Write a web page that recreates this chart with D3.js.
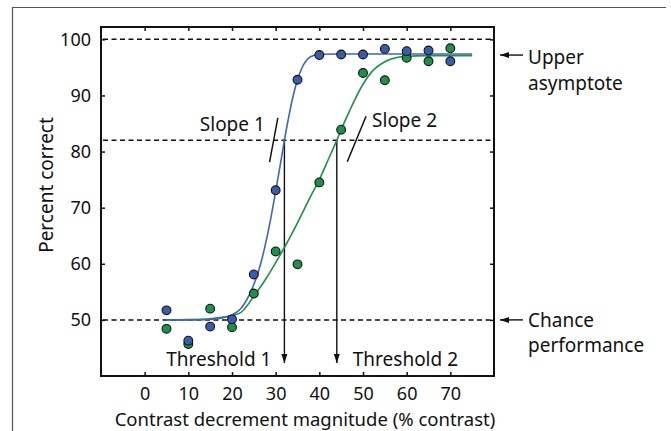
<!DOCTYPE html>
<html>
<head>
<meta charset="utf-8">
<script src="https://cdn.jsdelivr.net/npm/d3@7"></script>
<style>
  body { margin: 0; background: #fff; }
  text { font-family: "Noto Sans", sans-serif; font-size: 19px; fill: #111; }
  .tick text { font-size: 18px; }
</style>
</head>
<body>
<div class="chart"></div>
<script>
// data
const xTicks = [0, 10, 20, 30, 40, 50, 60, 70];
const yTicks = [50, 60, 70, 80, 90, 100];

const contrast = [5, 10, 15, 20, 25, 30, 35, 40, 45, 50, 55, 60, 65, 70];
const blueCorrect = [51.7, 46.3, 48.8, 50.1, 58.1, 73.1, 92.8, 97.2, 97.3, 97.3, 98.3, 97.9, 98.0, 96.1];
const greenCorrect = [48.4, 45.7, 52.0, 48.7, 54.7, 62.2, 59.9, 74.5, 83.9, 94.0, 92.7, 96.7, 96.1, 98.4];

// fitted curves
const blueFitX = [5, 10, 15, 18, 20, 22, 24, 25, 26, 27, 28, 29, 30, 31, 32, 33, 34, 35, 36, 37, 38, 40, 45, 75];
const blueFitY = [50, 50, 50.1, 50.4, 50.9, 52, 54.5, 56.3, 58.5, 61.3, 64.7, 68.6, 72.9, 77.4, 82, 86.2, 89.9, 92.8, 94.9, 96.2, 96.9, 97.35, 97.4, 97.4];
const greenFitX = [5, 10, 15, 18, 20, 22, 25, 28, 30, 32, 35, 38, 40, 42, 44, 45, 47, 50, 52, 55, 58, 60, 65, 75];
const greenFitY = [50, 50.05, 50.2, 50.5, 50.8, 51.3, 54.2, 57.6, 60.2, 62.9, 67.3, 72, 75, 78.5, 82, 83.9, 87.4, 92, 94.2, 96, 96.8, 97, 97.1, 97.1];

const refLevels = [100, 82, 50];
const thresholds = [32, 44];
const thresholdLabels = ['Threshold 1', 'Threshold 2'];
const slopeNames = ['Slope 1', 'Slope 2'];
const slopeSegs = [[[30.5, 86.0], [28.6, 78.1]], [[50.7, 86.3], [46.4, 78.2]]];
const upperLevel = 97.2;
const chanceLevel = 50;

const blue = '#3b5ca9';
const green = '#1f8f4c';
const blueLine = '#4166b4';
const greenLine = '#1c9149';

const width = 671, height = 431;
const margin = { top: 27, right: 177, bottom: 55, left: 101 };
const graphWidth = width - margin.left - margin.right;
const graphHeight = height - margin.top - margin.bottom;

const svg = d3.select('.chart')
  .append('svg')
  .attr('width', width)
  .attr('height', height);

// outer figure border
svg.append('path')
  .attr('d', `M12.5,${height + 5} V7.5 H666`)
  .attr('fill', 'none')
  .attr('stroke', '#555')
  .attr('stroke-width', 1.2);

const defs = svg.append('defs');
defs.append('marker')
  .attr('id', 'head')
  .attr('viewBox', '0 -4 9 8')
  .attr('refX', 9)
  .attr('refY', 0)
  .attr('markerWidth', 9)
  .attr('markerHeight', 8)
  .attr('markerUnits', 'userSpaceOnUse')
  .attr('orient', 'auto')
  .append('path')
  .attr('d', 'M0,-3L9,0L0,3Z')
  .attr('fill', '#111');

const graph = svg.append('g')
  .attr('transform', `translate(${margin.left}, ${margin.top})`);

const x = d3.scaleLinear().domain([-10, 80]).range([0, graphWidth]);
const y = d3.scaleLinear().domain([40, 102.2]).range([graphHeight, 0]);

// axes, ticks pointing inward on all four sides
const xAxisGroup = graph.append('g')
  .attr('transform', `translate(0, ${graphHeight})`)
  .call(d3.axisBottom(x).tickValues(xTicks).tickSizeInner(-4).tickSizeOuter(0).tickPadding(11.5));
graph.append('g')
  .call(d3.axisTop(x).tickValues(xTicks).tickSizeInner(-4).tickSizeOuter(0).tickFormat(''));
const yAxisGroup = graph.append('g')
  .call(d3.axisLeft(y).tickValues(yTicks).tickSizeInner(-4).tickSizeOuter(0).tickPadding(10));
graph.append('g')
  .attr('transform', `translate(${graphWidth}, 0)`)
  .call(d3.axisRight(y).tickValues(yTicks).tickSizeInner(-4).tickSizeOuter(0).tickFormat(''));

graph.selectAll('.domain').remove();
graph.selectAll('.tick line').attr('stroke', '#111').attr('stroke-width', 1.5);
graph.selectAll('.tick text')
  .attr('font-family', null)
  .attr('font-size', null)
  .attr('fill', null);

graph.append('rect')
  .attr('width', graphWidth)
  .attr('height', graphHeight)
  .attr('fill', 'none')
  .attr('stroke', '#111')
  .attr('stroke-width', 2);

// dashed reference levels
graph.selectAll('.ref')
  .data(refLevels)
  .enter()
  .append('line')
  .attr('x1', 2)
  .attr('x2', graphWidth - 1)
  .attr('y1', d => y(d))
  .attr('y2', d => y(d))
  .attr('stroke', '#111')
  .attr('stroke-width', 1.5)
  .attr('stroke-dasharray', '5,3.5');

// threshold arrows
graph.selectAll('.thr')
  .data(thresholds)
  .enter()
  .append('line')
  .attr('x1', d => x(d))
  .attr('x2', d => x(d))
  .attr('y1', y(82))
  .attr('y2', y(42.3))
  .attr('stroke', '#111')
  .attr('stroke-width', 1.4)
  .attr('marker-end', 'url(#head)');

// slope marks
graph.selectAll('.slope')
  .data(slopeSegs)
  .enter()
  .append('line')
  .attr('x1', d => x(d[0][0]))
  .attr('y1', d => y(d[0][1]))
  .attr('x2', d => x(d[1][0]))
  .attr('y2', d => y(d[1][1]))
  .attr('stroke', '#111')
  .attr('stroke-width', 1.5);

// fitted curves
const fitLine = d3.line()
  .x(d => x(d[0]))
  .y(d => y(d[1]))
  .curve(d3.curveMonotoneX);

graph.append('path')
  .datum(greenFitX.map((v, i) => [v, greenFitY[i]]))
  .attr('fill', 'none')
  .attr('stroke', greenLine)
  .attr('stroke-width', 1.6)
  .attr('d', fitLine);

graph.append('path')
  .datum(blueFitX.map((v, i) => [v, blueFitY[i]]))
  .attr('fill', 'none')
  .attr('stroke', blueLine)
  .attr('stroke-width', 1.6)
  .attr('d', fitLine);

// data points
const drawPoints = (vals, fill) => {
  graph.append('g')
    .selectAll('circle')
    .data(contrast.map((c, i) => [c, vals[i]]))
    .enter()
    .append('circle')
    .attr('cx', d => x(d[0]))
    .attr('cy', d => y(d[1]))
    .attr('r', 4.4)
    .attr('fill', fill)
    .attr('stroke', '#111')
    .attr('stroke-width', 1.1);
};
drawPoints(greenCorrect, green);
drawPoints(blueCorrect, blue);

// labels
graph.append('text')
  .attr('x', x(thresholds[0]) - 13)
  .attr('y', y(41.8))
  .attr('text-anchor', 'end')
  .text(thresholdLabels[0]);
graph.append('text')
  .attr('x', x(thresholds[1]) + 16)
  .attr('y', y(41.8))
  .text(thresholdLabels[1]);

graph.append('text')
  .attr('x', x(slopeSegs[0][0][0]) - 13)
  .attr('y', y(83.7))
  .attr('text-anchor', 'end')
  .text(slopeNames[0]);
graph.append('text')
  .attr('x', x(slopeSegs[1][0][0]) + 6)
  .attr('y', y(84.4))
  .text(slopeNames[1]);

// side annotations
const side = graph.append('g')
  .attr('transform', `translate(${graphWidth}, 0)`);

[[upperLevel, ['Upper', 'asymptote'], 9], [chanceLevel, ['Chance', 'performance'], 7]].forEach(([lvl, lines, lift]) => {
  side.append('line')
    .attr('x1', 29)
    .attr('x2', 6)
    .attr('y1', y(lvl))
    .attr('y2', y(lvl))
    .attr('stroke', '#111')
    .attr('stroke-width', 1.4)
    .attr('marker-end', 'url(#head)');
  side.append('text')
    .attr('x', 34)
    .attr('y', y(lvl) + lift)
    .selectAll('tspan')
    .data(lines)
    .enter()
    .append('tspan')
    .attr('x', 34)
    .attr('dy', (d, i) => i === 0 ? 0 : 25.5)
    .text(d => d);
});

// axis titles
svg.append('text')
  .attr('transform', 'translate(53, 185) rotate(-90)')
  .attr('text-anchor', 'middle')
  .text('Percent correct');

svg.append('text')
  .attr('x', 305)
  .attr('y', 425.5)
  .attr('text-anchor', 'middle')
  .style('font-size', '18.5px')
  .text('Contrast decrement magnitude (% contrast)');
</script>
</body>
</html>
